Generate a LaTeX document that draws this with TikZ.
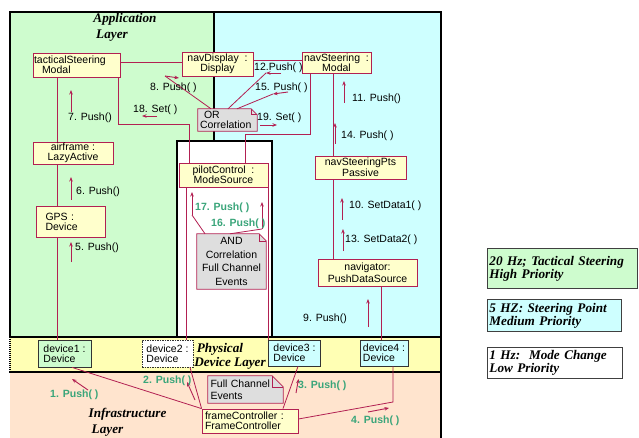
\documentclass[tikz,border=0pt]{standalone}
\usepackage{fontspec}
\setmainfont{Liberation Serif}
\setsansfont{Liberation Sans}
\usetikzlibrary{arrows.meta,backgrounds,calc}
\definecolor{crim}{RGB}{178,32,82}
\definecolor{appg}{RGB}{206,252,206}
\definecolor{appc}{RGB}{206,255,255}
\definecolor{phy}{RGB}{255,255,180}
\definecolor{inf}{RGB}{255,228,206}
\definecolor{objy}{RGB}{255,255,204}
\definecolor{noteg}{RGB}{222,222,222}
\definecolor{msgg}{RGB}{58,165,122}
\newcommand{\objfont}{\sffamily\fontsize{10.5}{10}\selectfont}
\newcommand{\layfont}{\rmfamily\fontsize{13.2}{13}\selectfont\bfseries\itshape}
\newcommand{\legfont}{\rmfamily\fontsize{13.2}{13}\selectfont\bfseries\itshape}
\newcommand{\notebg}[2]{%
  \draw[crim, fill=noteg, line width=0.8pt] (#1.north west) -- ([xshift=-#2]#1.north east) -- ([yshift=-#2]#1.north east) -- (#1.south east) -- (#1.south west) -- cycle;
  \draw[crim, line width=0.6pt] ([xshift=-#2]#1.north east) -- ([xshift=-#2,yshift=-#2]#1.north east) -- ([yshift=-#2]#1.north east);}
\newcommand{\msgarrow}[3]{\coordinate (#1a) at #2; \coordinate (#1b) at #3; \draw[msg] (#1a) -- (#1b);}
\begin{document}
\begin{tikzpicture}[x=1pt,y=-1pt,
  obj/.style={draw=crim, fill=objy, line width=0.8pt, inner sep=0.5pt, font=\objfont, align=center},
  dev/.style={draw=black!80, line width=0.8pt, inner sep=0.5pt, font=\objfont, align=left},
  notet/.style={inner sep=0.5pt, font=\objfont, align=left},
  link/.style={draw=crim, line width=0.8pt},
  msg/.style={draw=crim, line width=0.9pt, -{Stealth[length=4.5pt,width=3.5pt]}},
  lab/.style={font=\objfont, anchor=base west, inner sep=0pt},
  glab/.style={font=\objfont\bfseries, text=msgg, anchor=base west, inner sep=0pt},
  layer/.style={font=\layfont, anchor=base, inner sep=0pt},
  leg/.style={draw=black!75, line width=0.9pt, font=\legfont, align=left, inner xsep=2pt, inner ysep=0pt, anchor=north west}
]
\useasboundingbox (0,0) rectangle (639,438);

% ---------- layers ----------
\begin{scope}[on background layer]
  \fill[appg] (10,12) rectangle (214,337);
  \fill[appc] (214,12) rectangle (441,337);
  \fill[white] (177,141) rectangle (272,337);
  \fill[phy] (10,337) rectangle (441,372);
  \fill[inf] (10,372) rectangle (441,438);
  \draw[black, line width=2.2pt] (10,337) -- (10,12) -- (441,12) -- (441,372);
  \draw[black, line width=1.2pt] (441,372) -- (441,438);
  \draw[black, line width=2.2pt] (214,12) -- (214,141);
  \draw[black, line width=2.2pt] (177,337) -- (177,141) -- (272,141) -- (272,337);
  \draw[black, line width=2.2pt] (9,337) -- (442,337);
  \draw[black, line width=2.2pt] (9,372) -- (442,372);
  \draw[black, line width=1.5pt, dash pattern=on 1pt off 1pt] (10,337) -- (10,372);
\end{scope}

% ---------- layer labels ----------
\node[layer] (appl1) at (125,23) {Application};
\node[layer] (appl2) at (112,39) {Layer};
\node[layer] (phl1) at (220,352) {Physical};
\node[layer] (phl2) at (230,366) {Device Layer};
\node[layer] (inl1) at (127.5,417) {Infrastructure};
\node[layer] (inl2) at (107.5,433) {Layer};

% ---------- objects ----------
\node[obj, minimum width=87pt, minimum height=24pt, text width=85pt, align=left] (tac) at (76.5,65) {tacticalSteering\\\hspace*{8pt}Modal};
\node[obj, minimum width=71pt, minimum height=24pt] (nd) at (217.5,64) {navDisplay~~:\\Display};
\node[obj, minimum width=69pt, minimum height=21pt] (ns) at (336.5,62.5) {navSteering~~:\\Modal};
\node[obj, minimum width=80pt, minimum height=22pt] (air) at (73,153) {airframe :\\LazyActive};
\node[obj, minimum width=69pt, minimum height=31pt, text width=50pt, align=left] (gps) at (70.5,221.5) {GPS :\\Device};
\node[obj, minimum width=89pt, minimum height=24pt] (pc) at (223.5,175) {pilotControl~~:\\ModeSource};
\node[obj, minimum width=91pt, minimum height=23pt, font=\sffamily\fontsize{10.5}{8}\selectfont] (nsp) at (360.5,167.5) {navSteeringPts\\Passive};
\node[obj, minimum width=99pt, minimum height=27pt, font=\sffamily\fontsize{10.5}{12}\selectfont] (nav) at (367.5,272.5) {navigator:\\PushDataSource};

% notes
\node[notet, minimum width=59pt, minimum height=22pt, text width=55pt] (orc) at (227.5,120) {\hspace*{4pt}OR\\Correlation};
\node[notet, align=center, minimum width=69pt, minimum height=55pt, font=\sffamily\fontsize{10.5}{13.5}\selectfont] (andn) at (231.5,261.5) {AND\\Correlation\\Full Channel\\Events};
\node[notet, minimum width=75pt, minimum height=27pt, text width=70pt, font=\sffamily\fontsize{10.5}{12}\selectfont] (fcn) at (245.5,389.5) {Full Channel\\Events};
\begin{scope}[on background layer]
  \notebg{orc}{6pt}
  \notebg{andn}{7pt}
  \notebg{fcn}{11pt}
\end{scope}

% devices
\node[dev, fill=appg, minimum width=53pt, minimum height=27pt] (d1) at (64.5,353.5) {device1 :\\Device};
\node[dev, fill=white, dash pattern=on 1.5pt off 1pt, minimum width=51pt, minimum height=27pt] (d2) at (167.5,353.5) {device2 :\\Device};
\node[dev, fill=appc, minimum width=52pt, minimum height=26pt] (d3) at (294.5,353) {device3 :\\Device};
\node[dev, fill=appc, minimum width=48pt, minimum height=26pt] (d4) at (384,353) {device4 :\\Device};
\node[obj, minimum width=96pt, minimum height=24pt, text width=90pt, align=left] (fc) at (250,421) {frameController :\\FrameController};

% ---------- links ----------
\draw[link] (tac.east |- 0,62) -- (nd.west |- 0,62);
\draw[link] (nd.east |- 0,60) -- (ns.west |- 0,60);
\draw[link] (tac.south -| 57,0) -- (air.north -| 57,0);
\draw[link] (air.south -| 57,0) -- (gps.north -| 57,0);
\draw[link] (gps.south -| 57,0) -- (d1.north -| 57,0);
\coordinate (c6) at (189,124);
\draw[link] (tac.south -| 118,0) |- (c6) -- (pc.north -| c6);
\coordinate (c7) at (245,134);
\draw[link] (ns.south -| 310,0) |- (c7) -- (pc.north -| c7);
\draw[link] (ns.south -| 333,0) -- (nsp.north -| 333,0);
\draw[link] (nsp.south -| 333,0) -- (nav.north -| 333,0);
\draw[link] (nav.south -| 381,0) -- (d4.north -| 381,0);
\draw[link] (pc.south -| 186,0) -- (d2.north -| 186,0);
\draw[link] (pc.south east) -- (pc.south east |- d3.north);
\draw[link] (d1.south -| 72,0) -- (fc.north west);
\draw[link] (d2.south -| 190,0) -- (fc.north west);
\draw[link] (d3.south -| 298,0) -- (fc.north -| 283,0);
\coordinate (c16) at (393,402);
\draw[link] (d4.south -| 393,0) -- (c16) -- (fc.east |- 0,419);

% ---------- messages ----------
\msgarrow{m1}{(88,390)}{(72,379)}
\msgarrow{m2}{(195,400)}{(187,382)}
\msgarrow{m3}{(296,393)}{(298.5,379)}
\msgarrow{m4}{(368,412)}{(389,408)}
\msgarrow{m5}{(71,262)}{(71,242)}
\msgarrow{m6}{(71,200)}{(71,177)}
\msgarrow{m7}{(71,112)}{(71,90)}
\msgarrow{m8}{(165,76)}{(179,78)}
\msgarrow{m18}{(157,116)}{(142,116)}
\msgarrow{m12}{(281,73)}{(266,73)}
\msgarrow{m15}{(288,92)}{(273,94)}
\msgarrow{m19}{(260,125)}{(277,125)}
\msgarrow{m11}{(344,103)}{(344,81)}
\msgarrow{m14}{(335,144)}{(335,123)}
\msgarrow{m10}{(342,220)}{(342,198)}
\msgarrow{m13}{(343,251)}{(343,229)}
\msgarrow{m9}{(368,327)}{(368,299)}
\msgarrow{m16}{(262,229)}{(262,202)}
\msgarrow{m17}{(192,215)}{(192,192)}

% correlation lines
\draw[link] (orc.north -| 211,0) -- (m8a);
\draw[link] (orc.north -| 228,0) -- (m12b);
\draw[link] (orc.north -| 237,0) -- (m15b);
\draw[link] (andn.north -| 205,0) -- (m17a);
\draw[link] (andn.north -| 230,0) -- (m16a);

% ---------- message labels ----------
\node[glab] (l1) at (50,397) {1. Push( )};
\node[glab] (l2) at (143,383) {2. Push( )};
\node[glab] (l3) at (298,388) {3. Push( )};
\node[glab] (l4) at (351,423) {4. Push( )};
\node[lab] (l5) at (75,251) {5. Push()};
\node[lab] (l6) at (76,195) {6. Push()};
\node[lab] (l7) at (68,121) {7. Push()};
\node[lab] (l8) at (150,91) {8. Push( )};
\node[lab] (l18) at (133,113) {18. Set( )};
\node[lab] (l12) at (254,71) {12.Push( )};
\node[lab] (l15) at (255,91) {15. Push( )};
\node[lab] (l19) at (257,121) {19. Set( )};
\node[lab] (l11) at (352,102) {11. Push()};
\node[lab] (l14) at (341,139) {14. Push( )};
\node[lab] (l10) at (349,209) {10. SetData1( )};
\node[lab] (l13) at (345,243) {13. SetData2( )};
\node[lab] (l9) at (303,321) {9. Push()};
\node[glab] (l17) at (195,211) {17. Push( )};
\node[glab] (l16) at (211,226) {16. Push( )};

% ---------- legend ----------
\node[leg, fill=appg, minimum width=150pt, minimum height=40pt, text width=146pt] (lg1) at (487,248) {20 Hz; Tactical Steering\\High Priority};
\node[leg, fill=appc, minimum width=134pt, minimum height=32pt, text width=130pt] (lg2) at (487,299) {5 HZ: Steering Point\\Medium Priority};
\node[leg, fill=white, minimum width=135pt, minimum height=31pt, text width=131pt] (lg3) at (487,347) {1 Hz:~~Mode Change\\Low Priority};
\end{tikzpicture}
\end{document}
